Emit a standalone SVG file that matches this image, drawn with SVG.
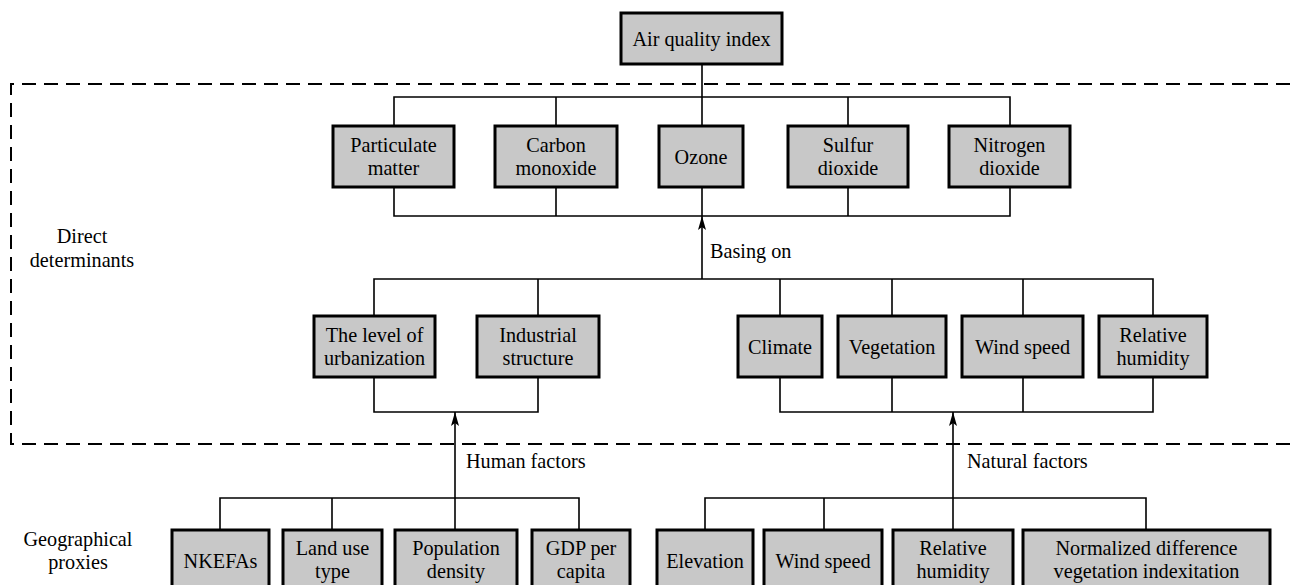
<svg xmlns="http://www.w3.org/2000/svg" width="1290" height="585" viewBox="0 0 1290 585">
<defs>
<style>
.box{fill:#c8c8c8;stroke:#000;stroke-width:3}
.ln{fill:none;stroke:#000;stroke-width:1.6}
.dash{fill:none;stroke:#000;stroke-width:2;stroke-dasharray:14 8}
text{font-family:"Liberation Serif","Times New Roman",serif;font-size:22px;fill:#000;transform-box:fill-box;transform-origin:50% 50%;transform:scaleX(0.92)}
.c{text-anchor:middle}
.l{transform-origin:0% 50%}
</style>
<marker id="ah" viewBox="0 0 14 8" refX="14" refY="4" markerWidth="14" markerHeight="8" markerUnits="userSpaceOnUse" orient="auto">
<path d="M0,0 L14,4 L0,8 L3,4 Z" fill="#000"/>
</marker>
</defs>
<rect width="1290" height="585" fill="#fff"/>
<path class="dash" d="M1290,84 H11 V444 H1290"/>
<g id="connectors">
<path class="ln" d="M702,64 V97 M394,126 V97 H1010 V126 M556,97 V126 M702,97 V126 M848,97 V126"/>
<path class="ln" d="M394,187 V216 H1010 V187 M556,187 V216 M702,187 V216 M848,187 V216"/>
<path class="ln" marker-end="url(#ah)" d="M702,279 V216"/>
<path class="ln" d="M374,316 V279 H1153 V316 M538,279 V316 M780,279 V316 M892,279 V316 M1023,279 V316"/>
<path class="ln" d="M374,377 V412 H538 V377"/>
<path class="ln" d="M780,377 V412 H1153 V377 M892,377 V412 M1023,377 V412"/>
<path class="ln" marker-end="url(#ah)" d="M455,530 V412"/>
<path class="ln" marker-end="url(#ah)" d="M953,530 V412"/>
<path class="ln" d="M220,530 V498 H579 V530 M332,498 V530"/>
<path class="ln" d="M705,530 V498 H1146 V530 M824,498 V530"/>
</g>
<g id="labels">
<text class="c" x="82" y="243">Direct</text>
<text class="c" x="82" y="267">determinants</text>
<text class="l" x="710" y="258">Basing on</text>
<text class="l" x="466" y="468">Human factors</text>
<text class="l" x="967" y="468">Natural factors</text>
<text class="c" x="78" y="546">Geographical</text>
<text class="c" x="78" y="569">proxies</text>
</g>
<g id="n-aqi"><rect class="box" x="621" y="13" width="161" height="51"/><text class="c" x="701.5" y="46">Air quality index</text></g>
<g id="n-pm"><rect class="box" x="333" y="126" width="121" height="61"/><text class="c" x="393.5" y="152">Particulate</text><text class="c" x="393.5" y="175">matter</text></g>
<g id="n-co"><rect class="box" x="495" y="126" width="122" height="61"/><text class="c" x="556" y="152">Carbon</text><text class="c" x="556" y="175">monoxide</text></g>
<g id="n-o3"><rect class="box" x="659" y="126" width="84" height="61"/><text class="c" x="701" y="164">Ozone</text></g>
<g id="n-so2"><rect class="box" x="788" y="126" width="120" height="61"/><text class="c" x="848" y="152">Sulfur</text><text class="c" x="848" y="175">dioxide</text></g>
<g id="n-no2"><rect class="box" x="949" y="126" width="121" height="61"/><text class="c" x="1009.5" y="152">Nitrogen</text><text class="c" x="1009.5" y="175">dioxide</text></g>
<g id="n-urb"><rect class="box" x="314" y="316" width="121" height="61"/><text class="c" x="374.5" y="342">The level of</text><text class="c" x="374.5" y="365">urbanization</text></g>
<g id="n-ind"><rect class="box" x="477" y="316" width="122" height="61"/><text class="c" x="538" y="342">Industrial</text><text class="c" x="538" y="365">structure</text></g>
<g id="n-cli"><rect class="box" x="738" y="316" width="84" height="61"/><text class="c" x="780" y="354">Climate</text></g>
<g id="n-veg"><rect class="box" x="838" y="316" width="108" height="61"/><text class="c" x="892" y="354">Vegetation</text></g>
<g id="n-ws"><rect class="box" x="962" y="316" width="121" height="61"/><text class="c" x="1022.5" y="354">Wind speed</text></g>
<g id="n-rh"><rect class="box" x="1099" y="316" width="108" height="61"/><text class="c" x="1153" y="342">Relative</text><text class="c" x="1153" y="365">humidity</text></g>
<g id="n-nkefa"><rect class="box" x="172" y="530" width="97" height="61"/><text class="c" x="220.5" y="568">NKEFAs</text></g>
<g id="n-land"><rect class="box" x="283" y="530" width="99" height="61"/><text class="c" x="332.5" y="555">Land use</text><text class="c" x="332.5" y="578">type</text></g>
<g id="n-pop"><rect class="box" x="395" y="530" width="122" height="61"/><text class="c" x="456" y="555">Population</text><text class="c" x="456" y="578">density</text></g>
<g id="n-gdp"><rect class="box" x="532" y="530" width="98" height="61"/><text class="c" x="581" y="555">GDP per</text><text class="c" x="581" y="578">capita</text></g>
<g id="n-elev"><rect class="box" x="657" y="530" width="96" height="61"/><text class="c" x="705" y="568">Elevation</text></g>
<g id="n-ws2"><rect class="box" x="764" y="530" width="118" height="61"/><text class="c" x="823" y="568">Wind speed</text></g>
<g id="n-rh2"><rect class="box" x="893" y="530" width="120" height="61"/><text class="c" x="953" y="555">Relative</text><text class="c" x="953" y="578">humidity</text></g>
<g id="n-ndvi"><rect class="box" x="1023" y="530" width="247" height="61"/><text class="c" x="1146.5" y="555">Normalized difference</text><text class="c" x="1146.5" y="578">vegetation indexitation</text></g>
</svg>
